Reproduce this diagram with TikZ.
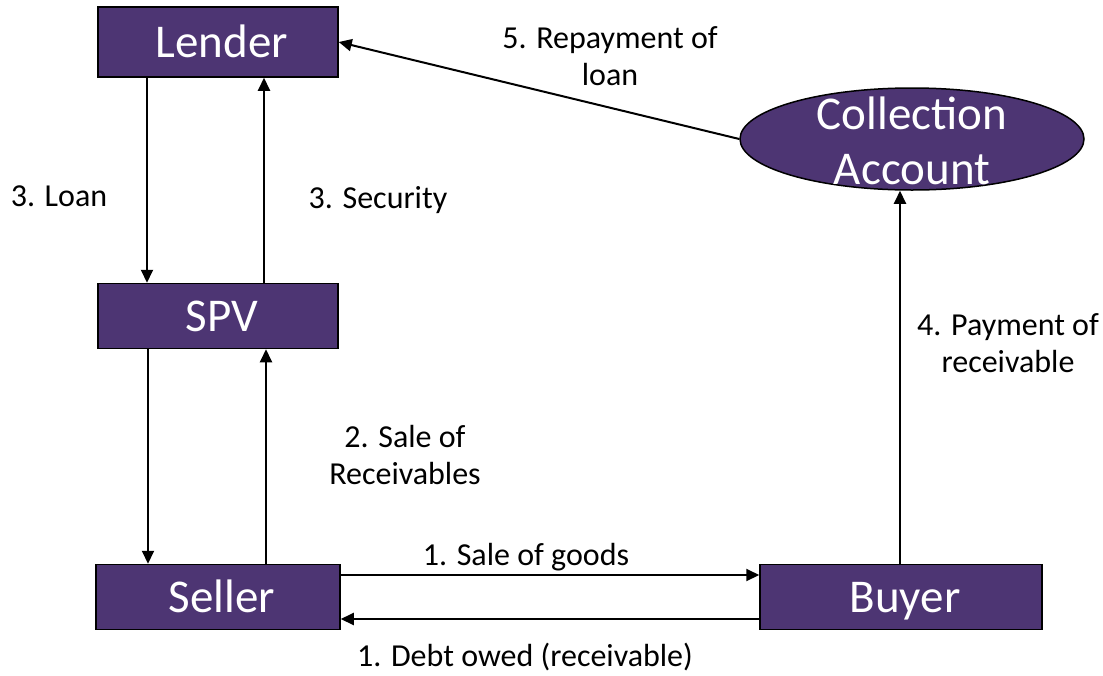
\documentclass[tikz,border=0pt]{standalone}
\usepackage{fontspec}
\setmainfont{Carlito}
\usetikzlibrary{arrows.meta,shapes.geometric}
\definecolor{boxpurple}{RGB}{77,53,115}
\tikzset{
  entity/.style={draw=black, line width=1.5pt, fill=boxpurple, text=white, inner sep=0pt, font=\fontsize{47}{55}\selectfont},
  shifted/.style={execute at begin node=\hspace*{8pt}, text height=34pt, text depth=4pt},
  lbl/.style={align=center, inner sep=0pt, font=\fontsize{32}{37}\selectfont},
  arr/.style={line width=2pt, -{Triangle[length=13pt,width=12pt]}}
}
\begin{document}
\begin{tikzpicture}[x=1pt,y=-1pt]
\useasboundingbox (0,0) rectangle (1103,675);
\node[entity, shifted, rectangle, minimum width=240, minimum height=70] (lender) at (218,42) {Lender};
\node[entity, shifted, rectangle, minimum width=240, minimum height=65] (spv) at (218,316) {SPV};
\node[entity, shifted, rectangle, minimum width=244, minimum height=65] (seller) at (218,597) {Seller};
\node[entity, shifted, rectangle, minimum width=282, minimum height=65] (buyer) at (901,597) {Buyer};
\node[entity, ellipse, minimum width=344, minimum height=102] (coll) at (912,139) {};
\node[text=white, align=center, inner sep=0pt, font=\fontsize{47}{55}\selectfont] (colltext) at (912,141) {Collection\\Account};

\draw[arr] (lender.south -| 147,0) -- (spv.north -| 147,0);
\draw[arr] (spv.north -| 264,0) -- (lender.south -| 264,0);
\draw[arr] (spv.south -| 148,0) -- (seller.north -| 148,0);
\draw[arr] (seller.north -| 266,0) -- (spv.south -| 266,0);
\draw[arr] (seller.east |- 0,575) -- (buyer.west |- 0,575);
\draw[arr] (buyer.west |- 0,619) -- (seller.east |- 0,619);
\draw[arr] (buyer.north -| 900,0) -- (coll.south -| 900,0);
\draw[arr] (coll.west) -- (lender.east);

\node[lbl] (l1) at (59,196) {3. Loan};
\node[lbl] (l2) at (378,200) {3. Security};
\node[lbl] (l3) at (610,56) {5. Repayment of\\loan};
\node[lbl] (l4) at (1008,343) {4. Payment of\\receivable};
\node[lbl] (l5) at (405,455) {2. Sale of\\Receivables};
\node[lbl] (l6) at (526,557) {1. Sale of goods};
\node[lbl] (l7) at (525,657) {1. Debt owed (receivable)};
\end{tikzpicture}
\end{document}
